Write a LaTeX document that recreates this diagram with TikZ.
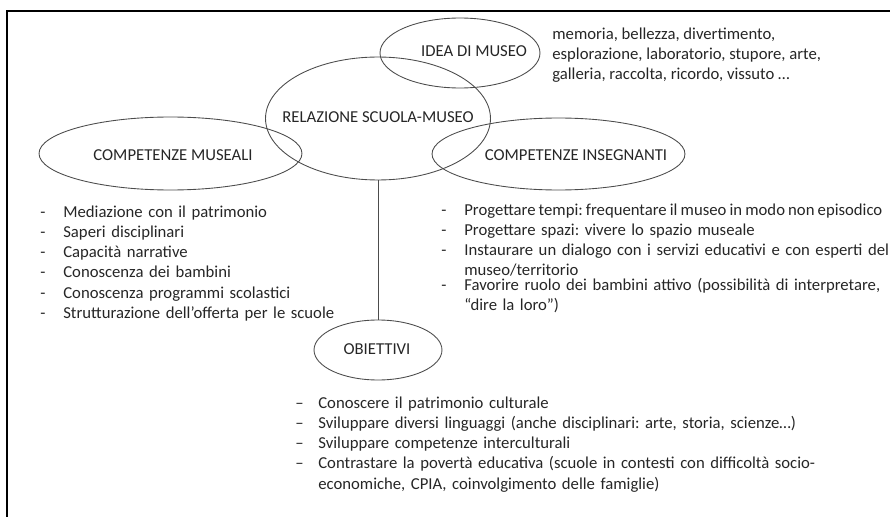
\documentclass[tikz,border=0pt]{standalone}
\usepackage{fontspec}
\setmainfont{Carlito}
\usepackage{tikz}
\usetikzlibrary{shapes, positioning}
\frenchspacing
\tikzstyle{bolla} = [draw=black!70, ellipse, line width=0.5pt, inner sep=0pt]
\tikzstyle{etichetta} = [inner sep=0pt, text=black!85]
\tikzstyle{elenco} = [inner sep=0pt, anchor=base west, text=black!85]
\newlength{\rientro}
\setlength{\rientro}{0.46cm}
\newcommand{\voce}[2]{\noindent\makebox[\rientro][l]{#1}%
    \parbox[t]{\dimexpr\hsize-\rientro\relax}{#2}\par}

\begin{document}
\begin{tikzpicture}[x=0.02cm, y=-0.02cm, font=\fontsize{9.5}{11.55}\selectfont]
    \useasboundingbox (0,0) rectangle (890,517);
    \clip (0,0) rectangle (890,517);
    \draw[line width=1.1pt] (7,530) -- (7,11) -- (900,11);

        \node[bolla, minimum width=3.2cm, minimum height=1.4cm] at (460,53) (idea) {};
        \node[bolla, minimum width=4.5cm, minimum height=2.46cm] at (378,118.5) (rel) {};
        \node[bolla, minimum width=5.26cm, minimum height=1.46cm] at (170.5,153.5) (musei) {};
        \node[bolla, minimum width=5.06cm, minimum height=1.44cm] at (558.5,154) (ins) {};
        \node[bolla, minimum width=2.56cm, minimum height=1.2cm] at (378,350) (obi) {};

        \node[etichetta] at (474,51) (tidea) {IDEA DI MUSEO};
        \node[etichetta] at (378,117) (trel) {RELAZIONE SCUOLA-MUSEO};
        \node[etichetta] at (173,155) (tmusei) {COMPETENZE MUSEALI};
        \node[etichetta] at (576,155) (tins) {COMPETENZE INSEGNANTI};
        \node[etichetta] at (377,349) (tobi) {OBIETTIVI};

            \draw[draw=black!70, line width=0.5pt] (rel) -- (obi);

        \node[etichetta, anchor=base west, align=left] at (552,80) (parole)
            {memoria, bellezza, divertimento,\\
             esplorazione, laboratorio, stupore, arte,\\
             galleria, raccolta, ricordo, vissuto …};

        \node[elenco, text width=8cm] at (40,217) (lmusei) {%
            \voce{-}{Mediazione con il patrimonio}%
            \voce{-}{Saperi disciplinari}%
            \voce{-}{Capacità narrative}%
            \voce{-}{Conoscenza dei bambini}%
            \voce{-}{Conoscenza programmi scolastici}%
            \voce{-}{Strutturazione dell’offerta per le scuole}};

        \node[elenco, text width=8.98cm] at (441,215) (lins) {%
            \voce{-}{\mbox{\spaceskip=1.8pt Progettare tempi: frequentare il museo in modo non episodico}}%
            \voce{-}{Progettare spazi: vivere lo spazio museale}%
            \voce{-}{Instaurare un dialogo con i servizi educativi e con esperti del\linebreak museo/territorio}%
            \voce{-}{Favorire ruolo dei bambini attivo (possibilità di interpretare,\linebreak “dire la loro”)}};

        \node[elenco, text width=10.56cm] at (295,408) (lobi) {%
            \voce{–}{Conoscere il patrimonio culturale}%
            \voce{–}{Sviluppare diversi linguaggi (anche disciplinari: arte, storia, scienze…)}%
            \voce{–}{Sviluppare competenze interculturali}%
            \voce{–}{Contrastare la povertà educativa (scuole in contesti con difficoltà socio-\linebreak economiche, CPIA, coinvolgimento delle famiglie)}};
    \end{tikzpicture}
\end{document}
